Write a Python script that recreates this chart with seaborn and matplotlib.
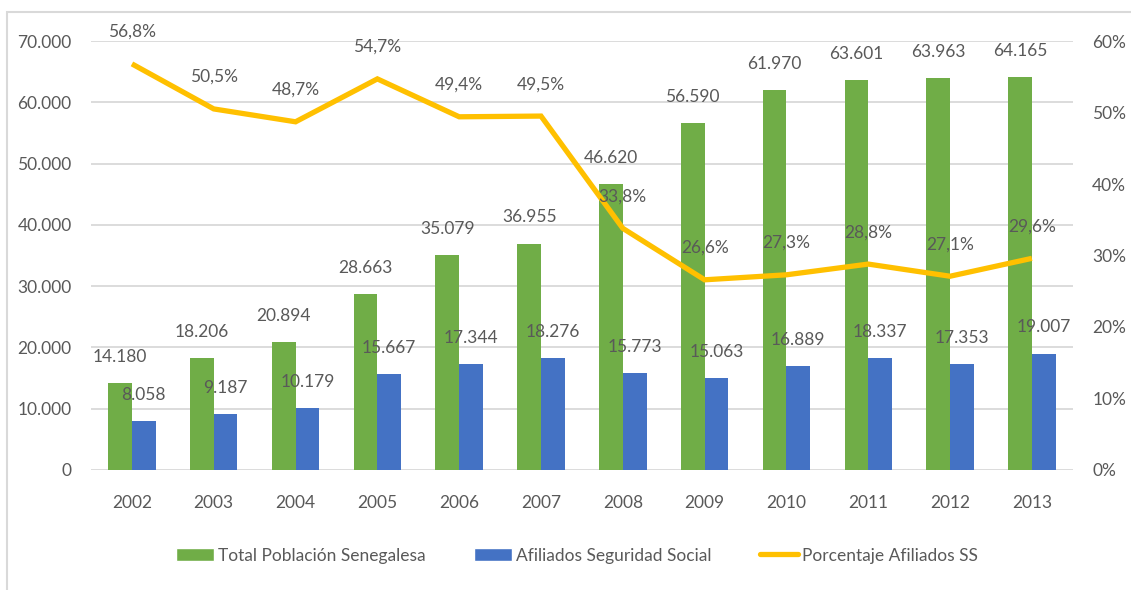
import numpy as np
import pandas as pd
import matplotlib
matplotlib.use("Agg")
import matplotlib.pyplot as plt
import seaborn as sns
from matplotlib.patches import Patch, Rectangle
from matplotlib.lines import Line2D
from matplotlib.ticker import FuncFormatter, MultipleLocator

years = ["2002", "2003", "2004", "2005", "2006", "2007", "2008", "2009", "2010", "2011", "2012", "2013"]
total_poblacion = [14180, 18206, 20894, 28663, 35079, 36955, 46620, 56590, 61970, 63601, 63963, 64165]
afiliados = [8058, 9187, 10179, 15667, 17344, 18276, 15773, 15063, 16889, 18337, 17353, 19007]
porcentaje = [56.8, 50.5, 48.7, 54.7, 49.4, 49.5, 33.8, 26.6, 27.3, 28.8, 27.1, 29.6]

series_names = ["Total Población Senegalesa", "Afiliados Seguridad Social", "Porcentaje Afiliados SS"]
colors = ["#70AD47", "#4472C4", "#FFC000"]

sns.set_theme(style="white")
plt.rcParams['font.family'] = ['Lato', 'DejaVu Sans']
txt = "#595959"
fs = 12.5

df = pd.DataFrame({
    "year": years * 2,
    "value": total_poblacion + afiliados,
    "serie": [series_names[0]] * len(years) + [series_names[1]] * len(years),
})

fig = plt.figure(figsize=(11.31, 5.90), dpi=100)
fig.patches.append(Rectangle((0.0065, -0.1), 1.2, 1.08, transform=fig.transFigure,
                             fill=False, edgecolor="#D9D9D9", linewidth=1.5))
ax = fig.add_axes([0.0805, 0.2034, 0.868, 0.7271])

sns.barplot(data=df, x="year", y="value", hue="serie", order=years,
            hue_order=series_names[:2], palette=colors[:2], width=0.58,
            saturation=1, linewidth=0, ax=ax, legend=False)
ax.set_ylim(0, 70000)
ax.set_xlim(-0.5, len(years) - 0.5)
ax.yaxis.set_major_locator(MultipleLocator(10000))
ax.yaxis.set_major_formatter(FuncFormatter(lambda v, p: f"{int(v):,}".replace(",", ".")))
ax.grid(axis="y", color="#D9D9D9", linewidth=1.3)
ax.set_axisbelow(True)
for s in ax.spines.values():
    s.set_visible(False)
ax.set_xlabel("")
ax.set_ylabel("")
ax.tick_params(axis="both", length=0, labelsize=fs, labelcolor=txt)
ax.tick_params(axis="x", pad=18)
ax.tick_params(axis="y", pad=14)

for cont in ax.containers:
    labels = [f"{int(round(b.get_height())):,}".replace(",", ".") for b in cont]
    ax.bar_label(cont, labels=labels, padding=13, fontsize=fs, color=txt)

ax2 = ax.twinx()
pos = np.arange(len(years))
sns.lineplot(x=pos, y=porcentaje, ax=ax2, color=colors[2], linewidth=3.8,
             solid_capstyle="butt", solid_joinstyle="miter")
ax2.set_ylim(0, 60)
ax2.set_xlim(-0.5, len(years) - 0.5)
ax2.yaxis.set_major_locator(MultipleLocator(10))
ax2.yaxis.set_major_formatter(FuncFormatter(lambda v, p: f"{int(v)}%"))
for s in ax2.spines.values():
    s.set_visible(False)
ax2.tick_params(axis="y", length=0, labelsize=fs, labelcolor=txt, pad=14)
ax2.grid(False)
for x, p in zip(pos, porcentaje):
    ax2.annotate(f"{p:.1f}%".replace(".", ","), (x, p), xytext=(0, 23),
                 textcoords="offset points", ha="center", va="center",
                 fontsize=fs, color=txt)

handles = [Patch(facecolor=colors[0]), Patch(facecolor=colors[1]),
           Line2D([0], [0], color=colors[2], linewidth=3.8)]
fig.legend(handles, series_names, loc="center", bbox_to_anchor=(0.51, 0.058),
           ncol=3, frameon=False, fontsize=fs, labelcolor=txt,
           handlelength=2.2, handleheight=0.8, handletextpad=0.2, columnspacing=2.8)

fig.savefig("out.png", dpi=100)
